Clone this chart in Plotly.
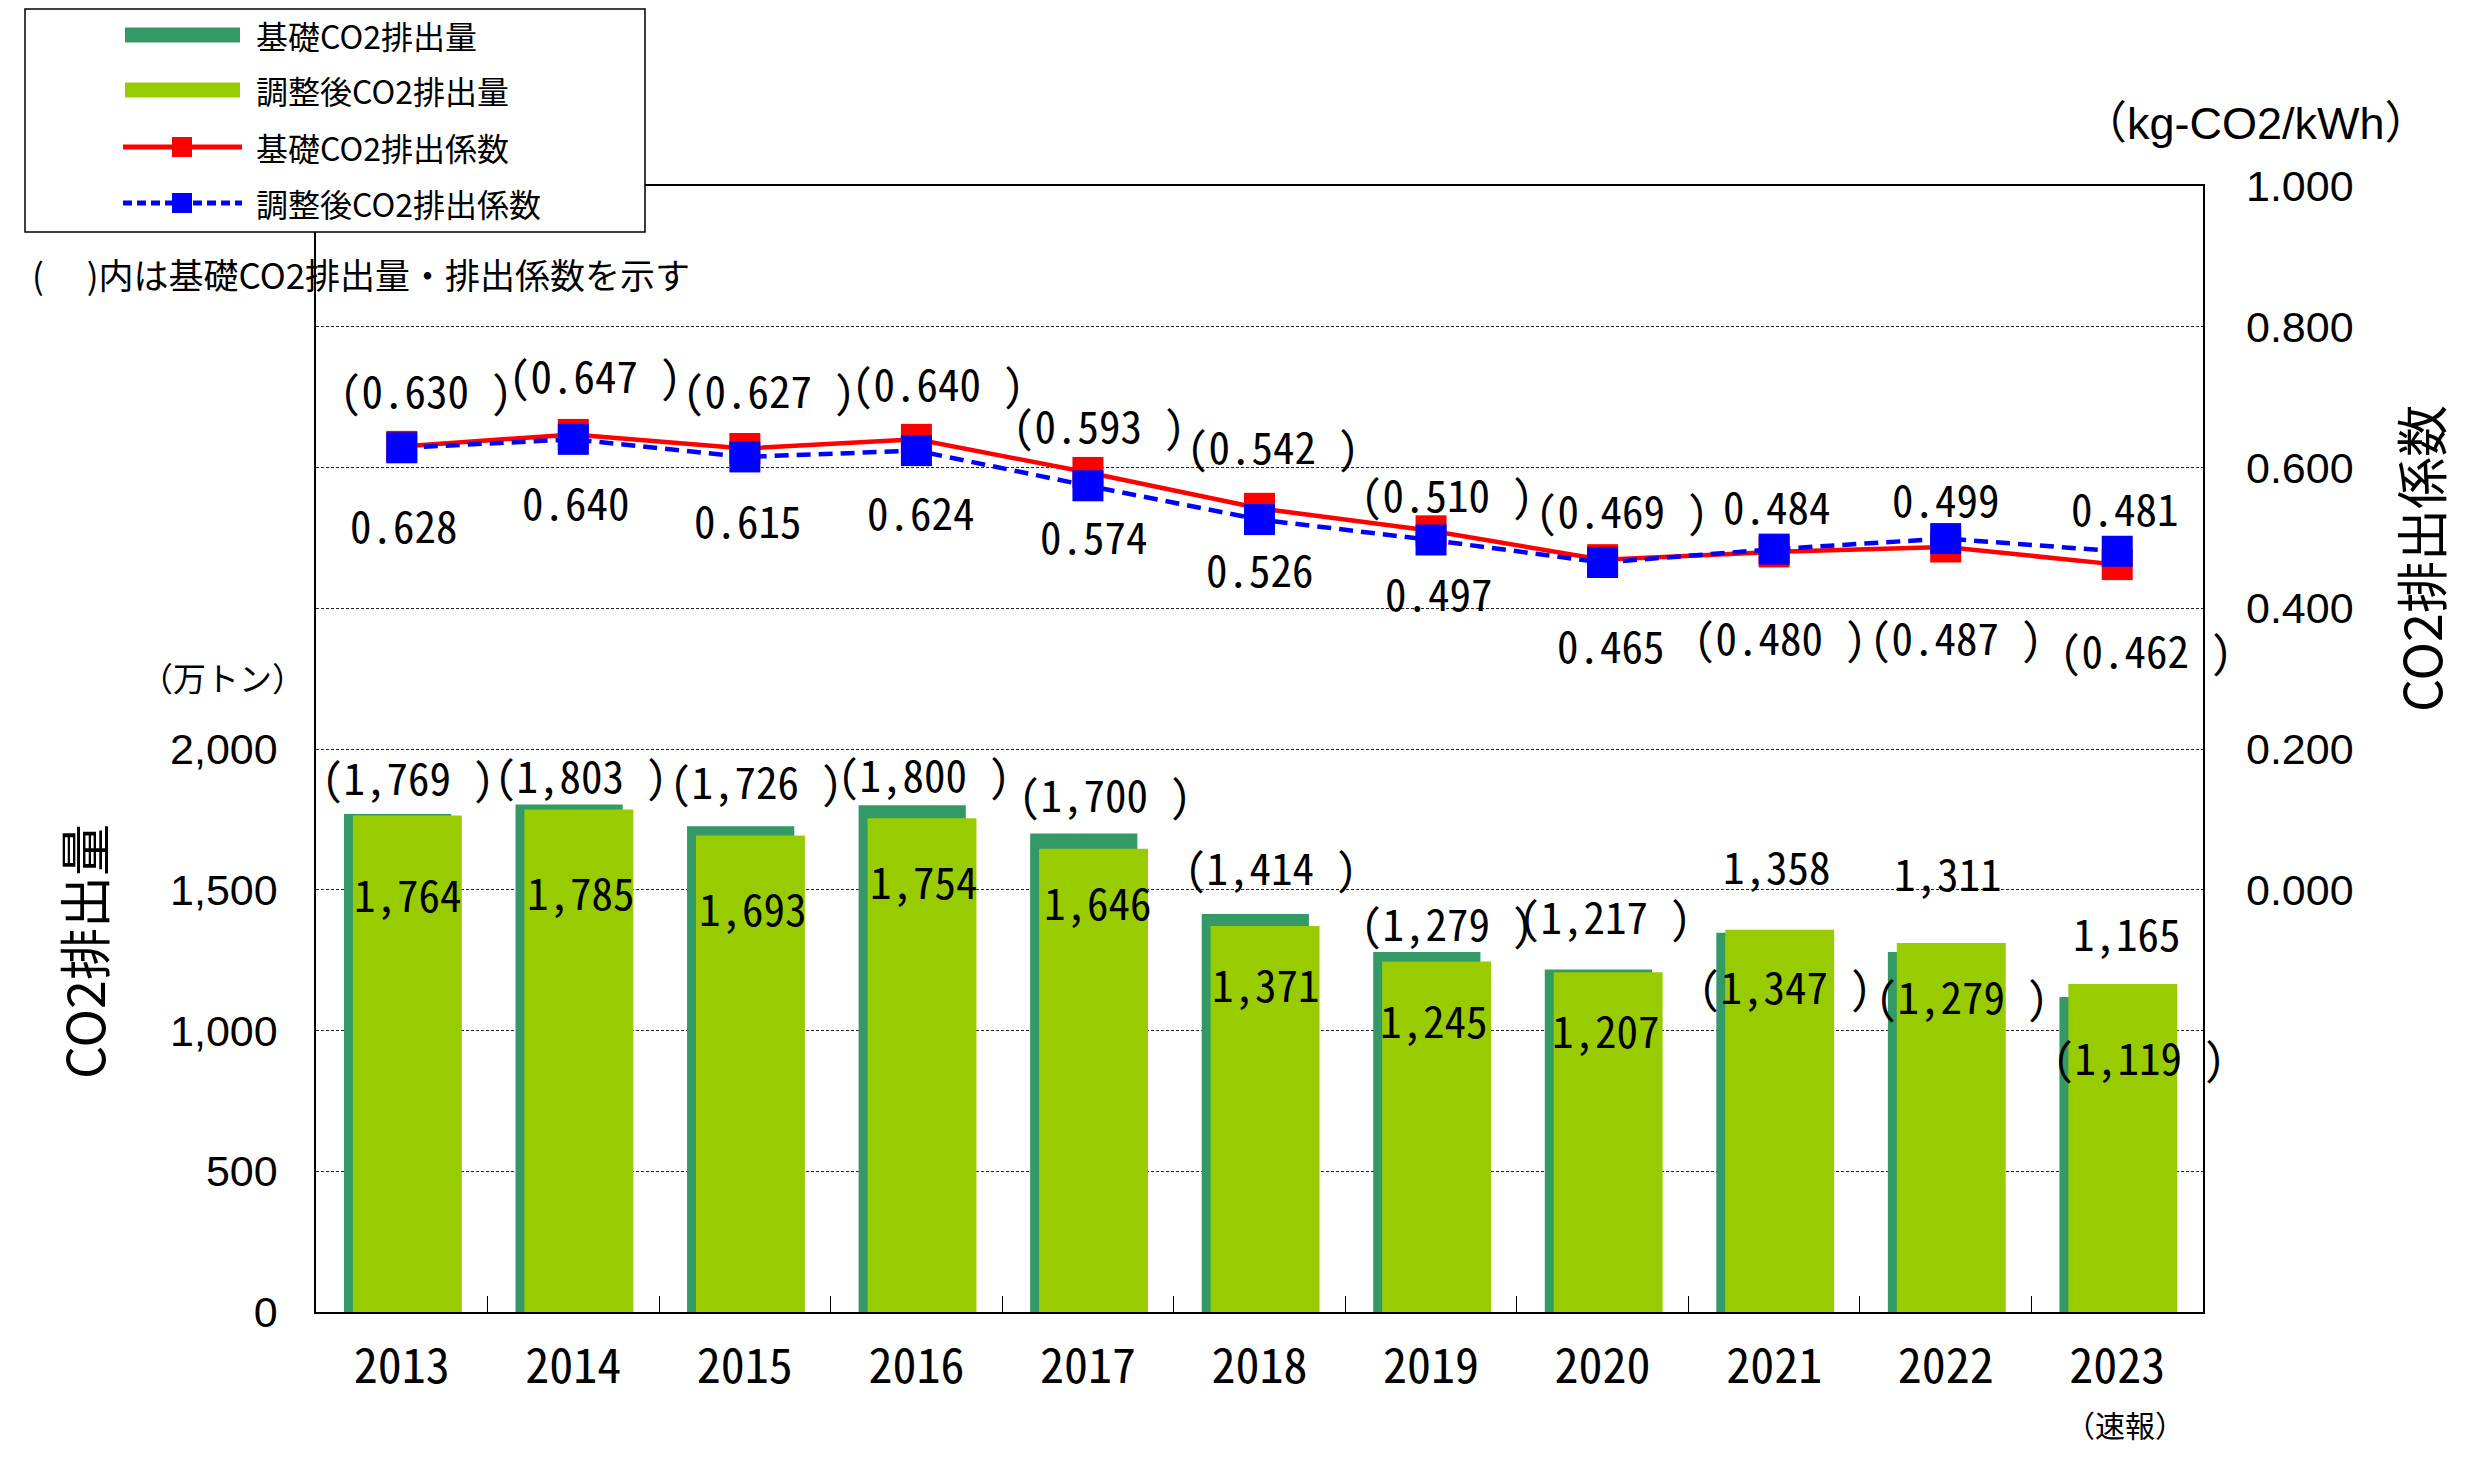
import plotly.graph_objects as go

# ---------------- data ----------------
years = ["2013", "2014", "2015", "2016", "2017", "2018", "2019", "2020", "2021", "2022", "2023"]
base_emission = [1769, 1803, 1726, 1800, 1700, 1414, 1279, 1217, 1347, 1279, 1119]
adj_emission = [1764, 1785, 1693, 1754, 1646, 1371, 1245, 1207, 1358, 1311, 1165]
base_coef = [0.630, 0.647, 0.627, 0.640, 0.593, 0.542, 0.510, 0.469, 0.480, 0.487, 0.462]
adj_coef = [0.628, 0.640, 0.615, 0.624, 0.574, 0.526, 0.497, 0.465, 0.484, 0.499, 0.481]
left_ticks = [0, 500, 1000, 1500, 2000]
right_ticks = [0.0, 0.2, 0.4, 0.6, 0.8, 1.0]

# label offsets in pixels (xshift, yshift) - styling only
base_coef_off = [(24, 57), (22, 60), (24, 60), (22, 57), (11, 48), (13, 63), (16, 38), (19, 51), (6, -84), (10, -89), (29, -84)]
adj_coef_off = [(2, -76), (3, -62), (3, -62), (5, -60), (6, -49), (0, -48), (8, -52), (8, -81), (3, 44), (0, 41), (8, 44)]
base_em_off = [(6, 38), (8, 30), (11, 46), (8, 32), (17, 40), (11, 48), (16, 30), (2, 54), (11, -52), (16, -43), (22, -59)]
adj_em_off = [(6, -78), (8, -81), (8, -72), (8, -62), (10, -52), (6, -57), (3, -57), (3, -57), (3, 65), (2, 71), (10, 52)]

# page has an 8px body margin: figure is drawn 8px smaller on each side
PAD = 8
W, H = 2487 - 2 * PAD, 1473 - 2 * PAD
L, R, T, B = 316 - PAD, 2203 - PAD, 186 - PAD, 1312 - PAD

MONO = "Noto Sans Mono CJK JP, Noto Sans CJK JP, sans-serif"
ARIAL = "Liberation Sans, Arial, Noto Sans CJK JP, sans-serif"
CJK = "Noto Sans CJK JP, sans-serif"

DARK = "#339966"
LIGHT = "#99CC00"

fig = go.Figure()
fig.add_trace(go.Bar(x=years, y=base_emission, name="基礎CO2排出量", marker_color=DARK,
                     marker_line_width=0, width=0.625, offset=-0.337, hoverinfo="y"))
fig.add_trace(go.Bar(x=years, y=adj_emission, name="調整後CO2排出量", marker_color=LIGHT,
                     marker_line_width=0, width=0.635, offset=-0.285, hoverinfo="y"))
fig.add_trace(go.Scatter(x=years, y=base_coef, name="基礎CO2排出係数", yaxis="y2", mode="lines+markers",
                         line=dict(color="#FF0000", width=4.5),
                         marker=dict(symbol="square", size=31, color="#FF0000")))
fig.add_trace(go.Scatter(x=years, y=adj_coef, name="調整後CO2排出係数", yaxis="y2", mode="lines+markers",
                         line=dict(color="#0000FF", width=4.5, dash="14px,8px"),
                         marker=dict(symbol="square", size=31, color="#0000FF")))

ann = []
def label(i, y, text, yref, off, size=43):
    ann.append(dict(x=i, y=y, xref="x", yref=yref, text=text, showarrow=False,
                    xanchor="center", yanchor="middle",
                    xshift=off[0], yshift=off[1], font=dict(family=MONO, size=size, color="black")))

for i, yr in enumerate(years):
    label(i, base_coef[i], f"({base_coef[i]:.3f} )", "y2", base_coef_off[i])
    label(i, adj_coef[i], f"{adj_coef[i]:.3f}", "y2", adj_coef_off[i])
    label(i, base_emission[i], f"({base_emission[i]:,} )", "y", base_em_off[i])
    label(i, adj_emission[i], f"{adj_emission[i]:,}", "y", adj_em_off[i])

# page pixel -> paper coordinate
def px(xp):
    return (xp - PAD - L) / (R - L)
def py(yp):
    return (B - (yp - PAD)) / (B - T)

def note(xp, yp, text, family, size, angle=0, xanchor="center"):
    ann.append(dict(x=px(xp), y=py(yp), xref="paper", yref="paper", text=text, textangle=angle,
                    xanchor=xanchor, yanchor="middle", showarrow=False,
                    font=dict(family=family, size=size, color="black")))

# (速報)
ann.append(dict(x=len(years) - 1, y=0, xref="x", yref="paper", yshift=-112, xshift=8, text="（速報）", showarrow=False,
                xanchor="center", yanchor="middle", font=dict(family=CJK, size=30, color="black")))
# axis titles and units
note(82, 952, "CO2排出量", CJK, 52, angle=-90)
note(2419, 559, "CO2排出係数", CJK, 52, angle=-90)
note(222, 677, "（万トン）", CJK, 33)
note(2256, 124, "（kg-CO2/kWh）", ARIAL, 45)
note(30, 273, "(\u3000\u00a0)内は基礎CO2排出量・排出係数を示す", CJK, 35, xanchor="left")

# manual legend
shapes = []
shapes.append(dict(type="rect", xref="paper", yref="paper", x0=px(25), x1=px(645), y0=py(232), y1=py(9),
                   line=dict(color="black", width=1.5), fillcolor="white", layer="above"))
rows = [35, 90, 147, 203]
names = ["基礎CO2排出量", "調整後CO2排出量", "基礎CO2排出係数", "調整後CO2排出係数"]
shapes.append(dict(type="rect", xref="paper", yref="paper", x0=px(125), x1=px(240), y0=py(rows[0] + 7.5), y1=py(rows[0] - 7.5),
                   line=dict(width=0), fillcolor=DARK, layer="above"))
shapes.append(dict(type="rect", xref="paper", yref="paper", x0=px(125), x1=px(240), y0=py(rows[1] + 7.5), y1=py(rows[1] - 7.5),
                   line=dict(width=0), fillcolor=LIGHT, layer="above"))
for r, col, dash in [(rows[2], "#FF0000", "solid"), (rows[3], "#0000FF", "9px,5px")]:
    shapes.append(dict(type="line", xref="paper", yref="paper", x0=px(123), x1=px(242), y0=py(r), y1=py(r),
                       line=dict(color=col, width=5, dash=dash), layer="above"))
    shapes.append(dict(type="rect", xref="paper", yref="paper", x0=px(172), x1=px(192), y0=py(r + 10), y1=py(r - 10),
                       line=dict(width=0), fillcolor=col, layer="above"))
for r, n in zip(rows, names):
    note(254, r, n, CJK, 32, xanchor="left")

grid_vals = list(range(0, 4000, 500))
grid_text = [f"{v:,}" if v in left_ticks else "" for v in grid_vals]

fig.update_layout(
    width=W, height=H,
    margin=dict(l=L, r=W - R, t=T, b=H - B, pad=0),
    paper_bgcolor="white", plot_bgcolor="white",
    barmode="overlay", showlegend=False,
    xaxis=dict(type="category", range=[-0.5, 10.5], showline=True, linecolor="black", linewidth=1.5, mirror=True,
               ticks="inside", tickson="boundaries", ticklen=16, tickcolor="black", tickwidth=1,
               tickfont=dict(family=MONO, size=48, color="black"), showgrid=False, ticklabelstandoff=12),
    yaxis=dict(range=[0, 4000], tickvals=grid_vals, ticktext=grid_text, showgrid=True, gridcolor="#222222",
               griddash="3px,2px", gridwidth=1, showline=True, linecolor="black", linewidth=1.5, mirror=True,
               ticks="", tickfont=dict(family=ARIAL, size=43, color="black"), zeroline=False, ticklabelstandoff=28),
    yaxis2=dict(range=[-0.6, 1.0], overlaying="y", side="right", tickvals=right_ticks,
                ticktext=[f"{v:.3f}" for v in right_ticks], showgrid=False, zeroline=False, showline=False,
                ticks="", tickfont=dict(family=ARIAL, size=43, color="black"), ticklabelstandoff=42),
    annotations=ann, shapes=shapes,
)

fig.write_html("out.html")
